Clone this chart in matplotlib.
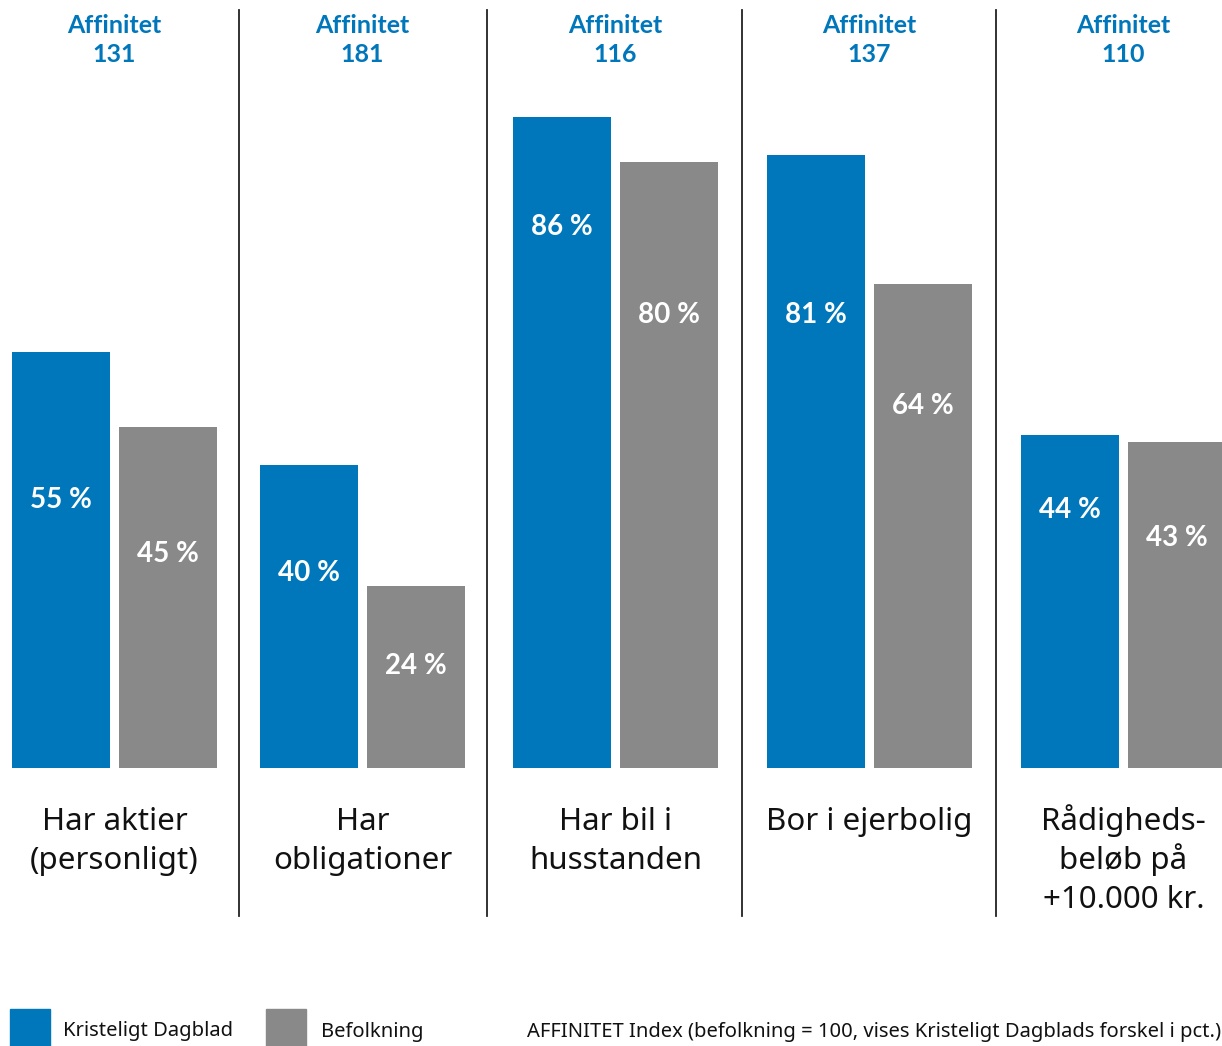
import matplotlib.pyplot as plt
import numpy as np

# Data
categories = ['Har aktier\n(personligt)', 'Har\nobligationer', 'Har bil i\nhusstanden',
              'Bor i ejerbolig', 'Rådigheds-\nbeløb på\n+10.000 kr.']
kd_values = [55, 40, 86, 81, 44]
pop_values = [45, 24, 80, 64, 43]
affinitet = [131, 181, 116, 137, 110]
# height (in %) where the value labels sit inside bars
kd_label_pos = [35.4, 25.8, 71.5, 59.8, 34.1]
pop_label_pos = [28.3, 13.5, 59.8, 47.8, 30.4]

blue = '#0077BB'
gray = '#898989'
W, H = 1222, 1046
plt.rcParams['font.family'] = ['Noto Sans', 'DejaVu Sans']
bold_font = ['Lato', 'DejaVu Sans']

fig = plt.figure(figsize=(W / 100, H / 100), dpi=100)
ax = fig.add_axes([0, 0, 1, 1])

# pixel layout: baseline at y=768, 7.57 px per %
px_per = 7.57
base = 768
ax.set_ylim((base - H) / px_per, base / px_per)
ax.set_xlim(0, W)
ax.axis('off')

group_x = np.array([114.5, 362.5, 615.5, 869.5, 1123.5])
sep_x = [239, 487, 742, 996]
bw = 98
off = 53.5
ax.bar(group_x - off, kd_values, width=bw, color=blue)
ax.bar(group_x + off, pop_values, width=bw, color=gray)

def fy(p):
    return 1 - p / H

for i in range(len(categories)):
    ax.text(group_x[i] - off, kd_label_pos[i], f'{kd_values[i]} %', color='white',
            fontsize=20, fontweight='bold', family=bold_font, ha='center', va='center')
    ax.text(group_x[i] + off, pop_label_pos[i], f'{pop_values[i]} %', color='white',
            fontsize=20, fontweight='bold', family=bold_font, ha='center', va='center')
    ax.text(group_x[i], (base - 25) / px_per, 'Affinitet', color=blue, fontsize=18,
            fontweight='bold', family=bold_font, ha='center', va='center')
    ax.text(group_x[i], (base - 54) / px_per, str(affinitet[i]), color=blue, fontsize=18,
            fontweight='bold', family=bold_font, ha='center', va='center')
    # category label, one line at a time (baselines 39 px apart)
    for k, line in enumerate(categories[i].split('\n')):
        ax.text(group_x[i], (base - 830 - 39 * k) / px_per, line, color='#111111',
                fontsize=22.5, ha='center', va='baseline')

# separators
for sx in sep_x:
    ax.plot([sx, sx], [(base - 10) / px_per, (base - 916) / px_per],
            color='#222222', lw=1.3, clip_on=False)

# legend
fig.patches.append(plt.Rectangle((10 / W, 0), 40 / W, 37 / H, color=blue,
                                 transform=fig.transFigure))
fig.patches.append(plt.Rectangle((266 / W, 0), 40 / W, 37 / H, color=gray,
                                 transform=fig.transFigure))
fig.text(63 / W, fy(1031), 'Kristeligt Dagblad', fontsize=14.5, va='center', color='#111111')
fig.text(321 / W, fy(1032), 'Befolkning', fontsize=14.5, va='center', color='#111111')
fig.text(527 / W, fy(1032), 'AFFINITET Index (befolkning = 100, vises Kristeligt Dagblads forskel i pct.)',
         fontsize=14.5, va='center', color='#111111')

fig.savefig('out.png', dpi=100)
